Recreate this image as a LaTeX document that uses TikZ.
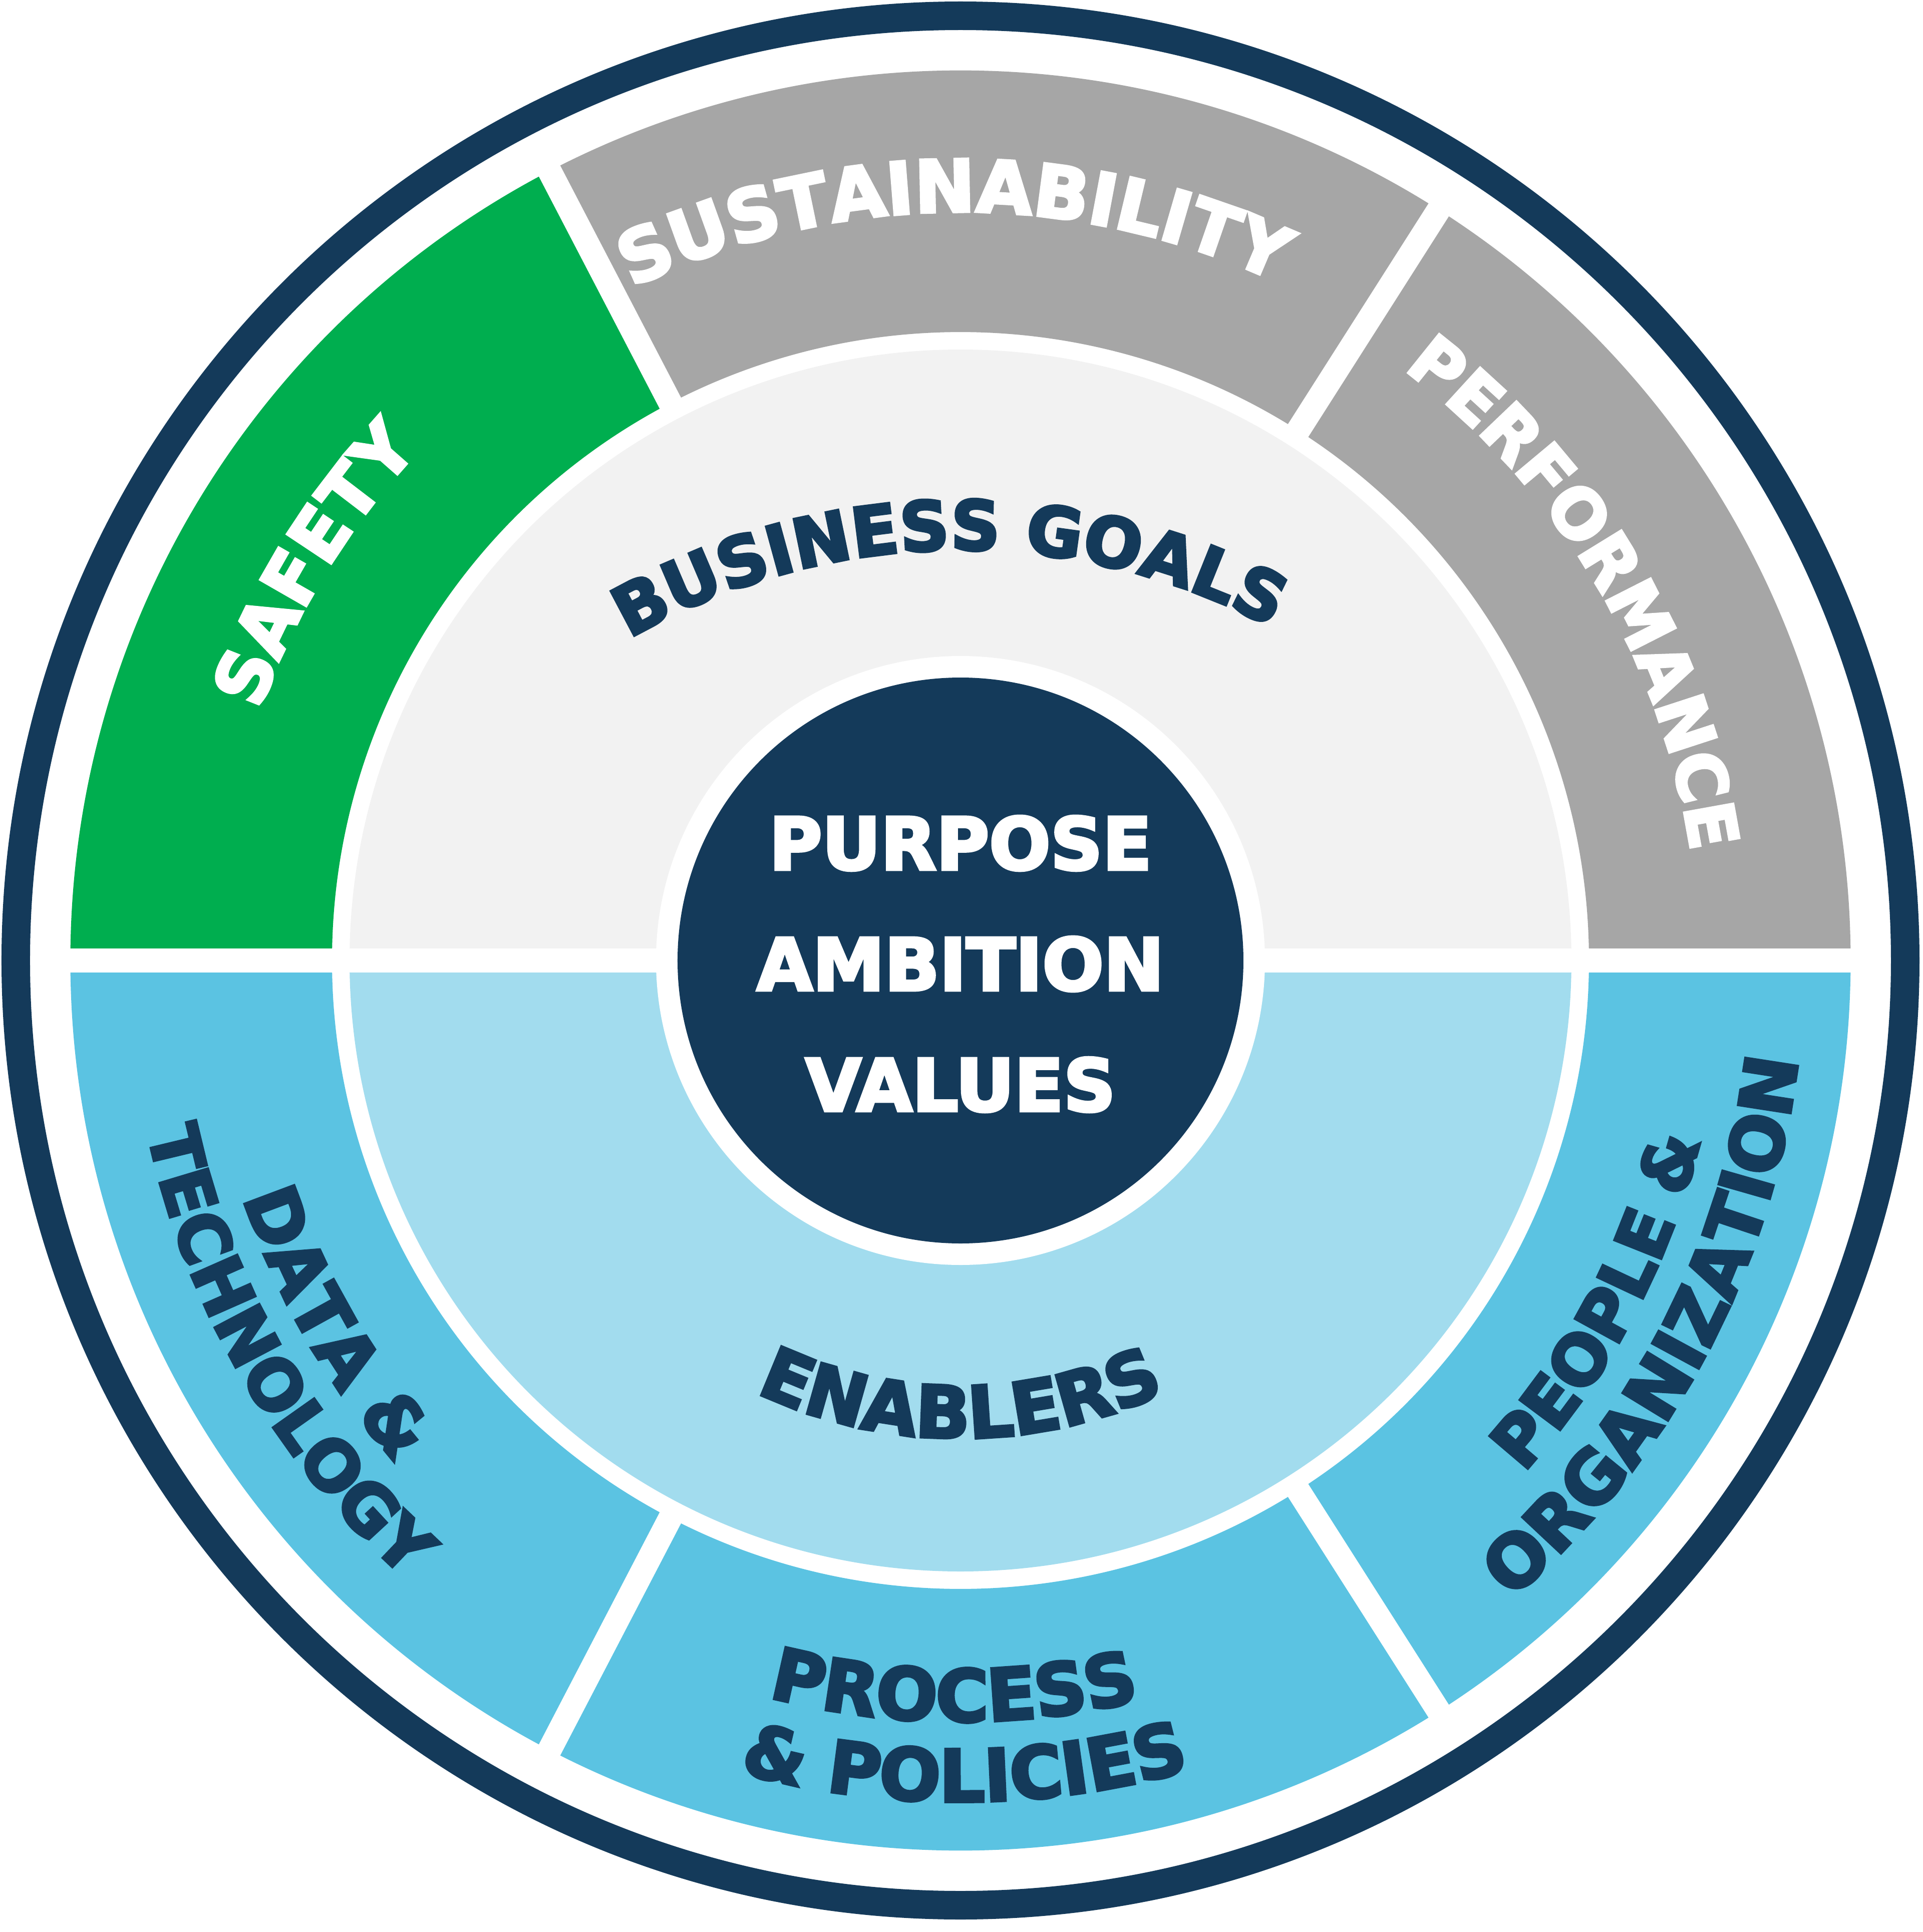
\documentclass[tikz,border=0pt]{standalone}
\usepackage{fontspec}
\setmainfont{DejaVu Sans}[BoldFeatures={FakeBold=4}]
\usetikzlibrary{decorations.text}
\definecolor{navy}{HTML}{143A5A}
\definecolor{safegreen}{HTML}{00AE4F}
\definecolor{goalgray}{HTML}{A6A6A6}
\definecolor{palegray}{HTML}{F2F2F2}
\definecolor{enablue}{HTML}{5BC3E2}
\definecolor{paleblue}{HTML}{A2DCEE}
\newcommand{\wheelfont}{\fontsize{41}{49}\selectfont\bfseries}
\newcommand{\smallwheelfont}{\fontsize{39}{47}\selectfont\bfseries}
\tikzset{
  gapline/.style={white, line width=0.48cm},
  ringtext/.style={decorate, decoration={text along path, text align=center, text={#1}}}}

\begin{document}
\begin{tikzpicture}
\useasboundingbox (-19.18,-19.40) rectangle (19.22,19.18);
% outer ring
\draw [navy, line width=0.57cm] (0,0) circle (18.865);
% outer segments
\fill [safegreen] (180:17.775) arc [start angle=180, end angle=117.5, radius=17.775] -- (117.5:12.55) arc [start angle=117.5, end angle=180, radius=12.55] -- cycle;
\fill [goalgray] (117.5:17.775) arc [start angle=117.5, end angle=57.5, radius=17.775] -- (57.5:12.55) arc [start angle=57.5, end angle=117.5, radius=12.55] -- cycle;
\fill [goalgray] (57.5:17.775) arc [start angle=57.5, end angle=0, radius=17.775] -- (0:12.55) arc [start angle=0, end angle=57.5, radius=12.55] -- cycle;
\fill [enablue] (0:17.775) arc [start angle=0, end angle=-57.5, radius=17.775] -- (-57.5:12.55) arc [start angle=-57.5, end angle=0, radius=12.55] -- cycle;
\fill [enablue] (-57.5:17.775) arc [start angle=-57.5, end angle=-117.5, radius=17.775] -- (-117.5:12.55) arc [start angle=-117.5, end angle=-57.5, radius=12.55] -- cycle;
\fill [enablue] (-117.5:17.775) arc [start angle=-117.5, end angle=-180, radius=17.775] -- (-180:12.55) arc [start angle=-180, end angle=-117.5, radius=12.55] -- cycle;
\draw [gapline] (117.5:12) -- (117.5:18.2);
\draw [gapline] (57.5:12) -- (57.5:18.2);
\draw [gapline] (-57.5:12) -- (-57.5:18.2);
\draw [gapline] (-117.5:12) -- (-117.5:18.2);
% inner half discs
\fill [palegray] (12.2,0) arc [start angle=0, end angle=180, radius=12.2] -- cycle;
\fill [paleblue] (12.2,0) arc [start angle=0, end angle=-180, radius=12.2] -- cycle;
\draw [gapline] (-18.2,0) -- (18.2,0);
% centre
\fill [white] (0,0) circle (6.08);
\fill [navy] (0,0) circle (5.65);
\node [text=white, align=center, inner sep=0pt, font={\fontsize{41}{68.6}\selectfont\bfseries}] (core) at (0,-0.07) {PURPOSE\\AMBITION\\VALUES};
% labels
\path [ringtext={|\wheelfont\color{white}|SAFETY}] (188.5:14.86) arc [start angle=188.5, end angle=108.5, radius=14.86];
\path [ringtext={|\wheelfont\color{white}|SUSTAINABILITY}] (140.5:14.95) arc [start angle=140.5, end angle=40.5, radius=14.95];
\path [ringtext={|\fontsize{38.5}{46}\selectfont\bfseries\color{white}|PERFORMANCE}] (80.8:14.75) arc [start angle=80.8, end angle=-19.2, radius=14.75];
\path [shift={(0,-5)}, ringtext={|\smallwheelfont\color{navy}|BUSINESS GOALS}] (131:13.2) arc [start angle=131, end angle=51, radius=13.2];
\path [ringtext={|\wheelfont\color{navy}|ENABLERS}] (230:9.54) arc [start angle=230, end angle=310, radius=9.54];
\path [ringtext={|\wheelfont\color{navy}|PROCESS}] (239.5:15.2) arc [start angle=239.5, end angle=299.5, radius=15.2];
\path [ringtext={|\wheelfont\color{navy}|{\&} POLICIES}] (240.3:16.8) arc [start angle=240.3, end angle=300.3, radius=16.8];
\path [ringtext={|\wheelfont\color{navy}|DATA {\&}}] (180:15.09) arc [start angle=180, end angle=240, radius=15.09];
\path [ringtext={|\smallwheelfont\color{navy}|TECHNOLOGY}] (170:16.59) arc [start angle=170, end angle=250, radius=16.59];
\path [ringtext={|\smallwheelfont\color{navy}|PEOPLE {\&}}] (297:15.2) arc [start angle=297, end angle=367, radius=15.2];
\path [ringtext={|\wheelfont\color{navy}|ORGANIZATION}] (292:16.84) arc [start angle=292, end angle=372, radius=16.84];
\end{tikzpicture}
\end{document}
